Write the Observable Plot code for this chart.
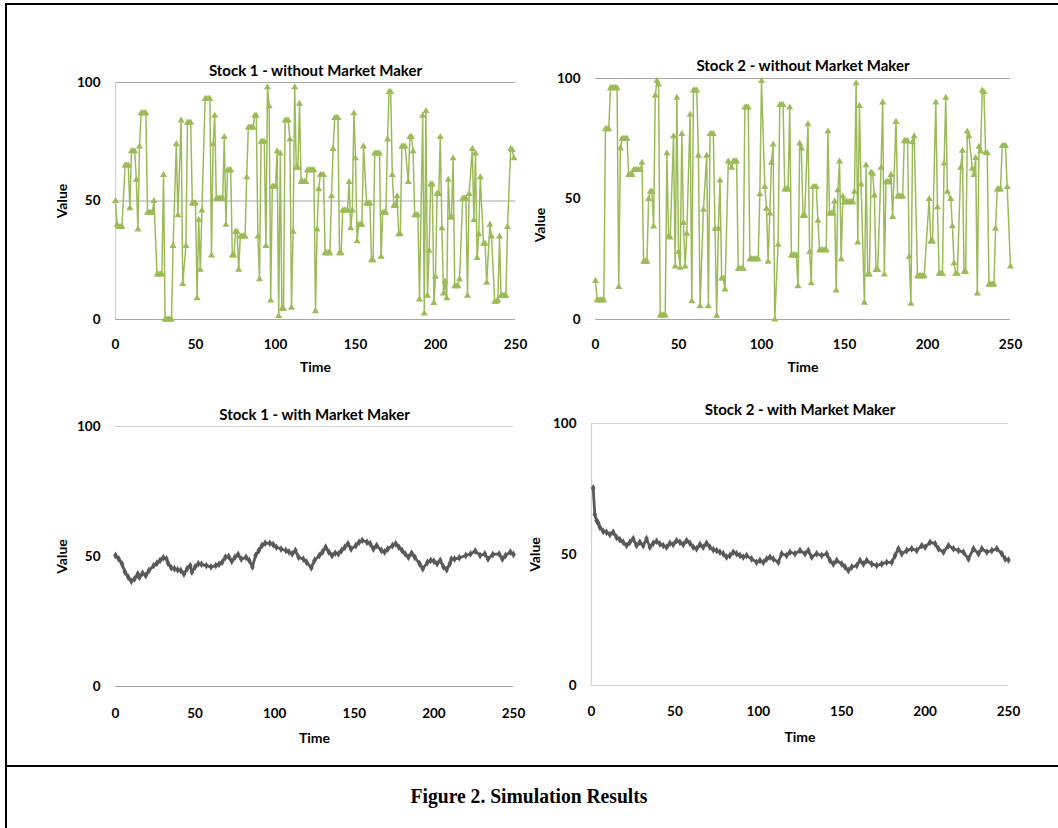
<!DOCTYPE html>
<html>
<head>
<meta charset="utf-8">
<script src="https://cdn.jsdelivr.net/npm/d3@7"></script>
<script src="https://cdn.jsdelivr.net/npm/@observablehq/plot@0.6"></script>
<style>
  html, body { margin: 0; padding: 0; background: #fff; }
  #page { position: relative; width: 1058px; height: 828px; overflow: hidden; background: #fff; }
  .panel { position: absolute; }
  .line { position: absolute; background: #000; }
  #caption { position: absolute; left: 0; width: 1058px; top: 783px; text-align: center;
    font-family: "Liberation Serif", "DejaVu Serif", serif; font-weight: bold; font-size: 22px; color: #000;
    transform: scaleX(0.89); transform-origin: 529px 0; }
</style>
</head>
<body>
<div id="page">
  <div class="line" style="left:5px; top:3px; width:1053px; height:2px;"></div>
  <div class="line" style="left:5px; top:3px; width:2px; height:825px;"></div>
  <div class="line" style="left:5px; top:765px; width:1053px; height:2px;"></div>
  <div id="caption">Figure 2. Simulation Results</div>
</div>
<script>
// ---- Tick labels ----
const xTicks = [0, 50, 100, 150, 200, 250];
const yTicks = [0, 50, 100];

// ---- Stock 1 - without Market Maker ----
const s1NoMMTime = [0,1,2,3,4,6,7,8,9,10,11,12,13,14,15,16,17,18,19,20,21,22,23,24,26,27,28,29,30,31,32,33,34,35,36,38,39,41,42,44,45,46,47,48,49,50,51,52,53,54,56,57,58,59,60,61,62,63,64,65,66,67,68,69,70,71,72,73,74,75,76,77,78,79,80,81,82,83,84,85,86,87,88,89,90,91,92,93,94,95,96,97,98,99,100,101,102,103,104,105,106,107,108,109,110,111,112,113,114,115,116,117,118,119,120,121,122,123,124,125,126,127,128,129,130,131,132,133,134,135,136,137,138,139,140,141,142,143,144,145,146,147,148,149,150,151,152,153,154,155,157,158,159,160,161,162,163,164,165,166,167,168,169,170,171,172,173,174,175,176,177,178,179,180,181,183,184,185,186,187,188,189,190,192,193,194,195,196,197,198,199,200,201,202,203,204,205,206,207,208,209,210,211,212,213,214,215,217,218,219,220,221,223,224,225,226,227,228,230,231,232,234,235,237,238,239,240,241,242,243,244,245,247,248,249];
const s1NoMMValue = [50,40,39,39,39,65,65,65,47,71,71,71,59,38,73,87,87,87,87,45,45,45,45,50,19,19,19,19,61,0,0,0,0,0,31,74,44,84,15,31,83,83,83,49,49,49,9,42,21,46,93,93,93,93,27,74,86,51,51,51,51,51,77,40,63,63,63,27,27,37,37,21,35,35,35,35,60,81,81,81,81,86,86,35,17,75,75,75,31,98,90,8,56,56,56,71,1.5,70,4.5,4.5,84,84,84,76,5,37,98,64,64,91,58,58,58,58,63,63,63,63,63,3.5,38,55,61,61,61,28,28,28,28,52,72,85,85,85,28,28,46,46,46,46,58,38.5,46,87,68,33,40,40,40,73,49,49,49,25,25,70,70,70,70,26.5,45,45,45,76,96,96,61,48,48,52,36,36,73,73,73,58,77,77,71,44,44,44,8.5,86,2.5,88,10,29,57,57,7,18,53,53,77,38.5,11,16,9,59,43,43,68,14,14,14,17,51,51,51,10,53,72,42,70,26,36,60,32,32,15.5,40,35,7.5,7.5,8,35,10,10,10,10,39,72,71.5,68];

// ---- Stock 2 - without Market Maker ----
const s2NoMMTime = [0,1,2,3,4,5,6,7,8,9,10,11,12,13,14,15,16,17,18,19,20,21,22,23,24,25,26,27,28,29,30,31,32,33,34,35,36,37,38,39,40,41,42,43,44,45,47,48,49,50,51,52,53,54,55,57,58,59,60,61,62,63,65,67,68,69,70,71,72,73,74,75,76,77,78,80,82,83,84,85,86,87,88,89,90,91,92,93,94,95,96,97,98,99,100,102,103,104,105,106,107,108,110,111,112,113,114,115,116,117,118,119,120,121,122,123,124,125,126,128,129,130,131,132,133,134,135,136,137,138,139,140,141,142,143,144,145,146,147,148,149,150,151,152,153,154,155,156,157,158,159,160,162,163,164,165,166,167,168,169,170,172,173,174,175,176,177,178,179,181,182,183,184,185,186,187,188,189,190,191,192,194,195,196,197,198,201,202,203,205,206,207,208,209,210,211,212,214,215,216,217,218,220,221,222,223,224,225,227,228,229,230,231,232,233,234,235,236,237,238,239,240,241,242,243,244,245,246,247,248,250];
const s2NoMMValue = [16,8,8,8,8,8,79,79,79,96,96,96,96,96,13.5,71,75,75,75,75,60,60,60,62,62,62,62,62,65,24,24,24,50,53,53,38.6,93,99,97.5,1.7,1.7,1.7,1.7,69,34.5,34,76,22,92,28,21.5,77,40,22,35.6,85,7.6,95,95,95,68,5.5,45.5,68,5.5,77,77,77,37.7,1.6,37.7,57.7,17,17,12.5,65.6,63,65.6,65.6,65.6,21,21,21,21,88,88,88,25,25,25,25,25,25,52,99,55,46,24,44,65,72.6,0,31,89,89,89,54,54,54,88,26.6,26.6,26.6,26.6,13.8,73,71,43,43,81,28,15,55,55,55,41,28.7,28.7,28.7,28.7,28.7,78,44,44,44,49,12,53.6,65.6,25,51,48.7,48.7,48.7,48.7,48.7,48.7,53,98,32,88.6,56,7,64,18.7,18.7,61,60.5,51.5,20.6,20.6,63,90,18.7,57,57,57,60,42.5,82,51,51,51,51,74,74,74,26,6.5,73.6,76,18,18,18,18,18,50,32.4,32.4,90,46.6,19,19,19,64.7,92,53,50,38.7,23.4,19,19,63,70,19.7,19.7,78,76,62.6,60,67,10.8,71.7,69.8,95,94.4,69.2,69,14.5,14.5,14.5,14.5,37.7,54,54,54,72,72,72,55,22];

// ---- Stock 1 - with Market Maker ----
const s1MMTime = [0,2,4,6,8,10,12,14,15,17,19,21,24,26,28,30,32,33,35,37,39,41,43,45,47,48,50,52,54,57,60,63,65,67,69,71,73,75,77,79,82,84,86,88,90,92,94,97,99,101,104,107,109,111,113,115,118,120,123,125,128,130,132,134,136,138,140,142,144,146,148,151,153,155,158,160,162,164,167,169,171,174,176,178,180,182,184,186,188,191,193,196,198,200,202,204,206,208,210,211,213,216,220,223,226,229,232,234,237,241,243,245,248,250];
const s1MMValue = [50.4,49.1,47.2,44,42,40.5,41.4,43.3,42,43.6,42.7,44.6,46.5,47.4,48.5,49.5,49.1,47.4,45.7,45.3,44.9,44.6,43.3,45.3,46.5,44,46,47.2,47,46.5,46,46.5,47,47.8,49.7,50,48.2,49.7,50.8,49,49.7,48.5,46,50.4,52.3,54.2,55.1,55.1,54.6,53.6,52.9,52.3,51.7,51,52.3,49.7,49,47.8,45.7,48.5,50.4,51.7,53.6,51.7,50.4,51.3,51,52.3,53.6,54.9,52.9,54.2,55.5,56.2,55.5,54.9,52.9,54.2,52.3,51.7,52.9,54.2,54.9,53.6,52.3,51,49.7,51.3,49.7,47.2,45.3,47.8,48.5,48.2,47.2,48.5,46,44.9,47.2,49,49,49.5,50.4,51,52.1,50.4,51,49,50.8,51,49,50.4,51.7,50.8];

// ---- Stock 2 - with Market Maker ----
const s2MMTime = [1,2,3,4,5,7,9,11,13,15,17,19,21,23,25,27,29,31,33,35,37,39,41,43,45,47,49,51,53,55,57,59,61,63,65,67,69,71,73,75,77,79,81,83,85,87,89,91,93,96,99,101,103,105,107,109,112,114,117,119,122,125,128,130,132,135,138,141,143,145,147,150,152,154,156,159,161,163,165,168,171,174,177,180,182,184,186,189,192,195,198,200,203,206,208,211,214,217,220,223,226,229,232,234,237,240,243,246,248,250];
const s2MMValue = [75.4,65.3,63,62,60.4,58.9,58.5,57.6,58.5,56.6,55.6,54.7,53.4,54.7,56,53.4,54.7,53.4,56,52.8,54.3,55.1,54,53.4,52.8,54.3,53.8,55.3,54.7,53.8,55.3,54.3,52.8,52.2,53.8,52.8,54.3,52.8,51.8,51.5,50.9,50.3,49,49.6,50.9,50.3,49.6,49,49.6,48.3,47,47.7,47,48.3,49,48.3,47,50.3,49.6,50.9,50.3,51.5,50.3,51.5,49,50.3,49.6,50.3,47.7,46.4,47.7,46.4,45.2,43.9,45.2,45.8,47.7,46.4,47.7,46.4,45.8,46.4,47,47,49.6,52.2,50.3,51.5,52.2,51.5,53.4,52.8,54.7,54.1,52.2,50.9,53.4,52.2,51.5,50.9,48.3,52.2,50.3,52.2,50.9,51.5,52.2,50.3,48.3,47.9];

const green = "#9bbb59";
const gray = "#595959";
const ML = 80, MR = 20, MT = 40, MB = 70;

function rows(ts, vs) { return ts.map((t, i) => ({t, v: vs[i]})); }

function panel(cfg) {
  const [L, T, R, B] = cfg.rect;
  const data = rows(cfg.time, cfg.value);
  const plot = Plot.plot({
    width: R - L + ML + MR,
    height: B - T + MT + MB,
    marginLeft: ML, marginRight: MR, marginTop: MT, marginBottom: MB,
    style: {background: "transparent", fontFamily: "Lato, 'Open Sans', sans-serif", fontSize: "13.5px", fontWeight: "bold", color: "#000", overflow: "visible"},
    x: {domain: [0, 250], ticks: xTicks, tickSize: 0, tickPadding: cfg.xPad, label: null},
    y: {domain: [0, 100], ticks: yTicks, tickSize: 0, tickPadding: 15, label: null},
    marks: [
      Plot.ruleY(cfg.grid, {stroke: cfg.gridColor, strokeWidth: 1}),
      Plot.ruleY([0], {stroke: cfg.axisColor, strokeWidth: 1.2}),
      cfg.leftLine ? Plot.ruleX([0], {stroke: cfg.leftColor, strokeWidth: 1.2}) : null,
      Plot.line(data, {x: "t", y: "v", stroke: cfg.color, strokeWidth: cfg.lineWidth}),
      Plot.dot(data, {x: "t", y: "v", symbol: cfg.symbol, r: cfg.r, fill: cfg.color, stroke: "none"}),
      Plot.text([cfg.title], {frameAnchor: "top", dy: cfg.titleDy, fontSize: 15, fontWeight: "bold", fill: "#000"}),
      Plot.text(["Time"], {frameAnchor: "bottom", dy: cfg.timeDy, fontSize: 14, fontWeight: "bold", fill: "#000"}),
      Plot.text(["Value"], {frameAnchor: "left", dx: cfg.valueDx, dy: cfg.valueDy, rotate: -90, textAnchor: "middle", fontSize: 14, fontWeight: "bold", fill: "#000"})
    ]
  });
  plot.classList.add("panel");
  plot.style.left = (L - ML) + "px";
  plot.style.top = (T - MT) + "px";
  document.getElementById("page").appendChild(plot);
}

panel({time: s1NoMMTime, value: s1NoMMValue, title: "Stock 1 - without Market Maker",
  rect: [115, 82, 515, 319], color: green, symbol: "triangle", r: 2.6, lineWidth: 1.5,
  grid: [50, 100], gridColor: "#a6a6a6", axisColor: "#a6a6a6", leftLine: true, leftColor: "#d0d0d0",
  xPad: 20, titleDy: -17, timeDy: 52, valueDx: -53, valueDy: 0});
panel({time: s2NoMMTime, value: s2NoMMValue, title: "Stock 2 - without Market Maker",
  rect: [595, 78, 1010, 319], color: green, symbol: "triangle", r: 2.6, lineWidth: 1.5,
  grid: [100], gridColor: "#a6a6a6", axisColor: "#a6a6a6", leftLine: false,
  xPad: 20, titleDy: -18, timeDy: 52, valueDx: -55, valueDy: 26});
panel({time: s1MMTime, value: s1MMValue, title: "Stock 1 - with Market Maker",
  rect: [115, 426, 513, 686], color: gray, symbol: "diamond", r: 2.4, lineWidth: 2.8,
  grid: [100], gridColor: "#d0d0d0", axisColor: "#a6a6a6", leftLine: false,
  xPad: 22, titleDy: -17, timeDy: 56, valueDx: -53, valueDy: 0});
panel({time: s2MMTime, value: s2MMValue, title: "Stock 2 - with Market Maker",
  rect: [591, 423, 1008, 685], color: gray, symbol: "diamond", r: 2.4, lineWidth: 2.8,
  grid: [100], gridColor: "#d0d0d0", axisColor: "#d0d0d0", leftLine: true, leftColor: "#d0d0d0",
  xPad: 21, titleDy: -19, timeDy: 56, valueDx: -56, valueDy: 0});
</script>
</body>
</html>
